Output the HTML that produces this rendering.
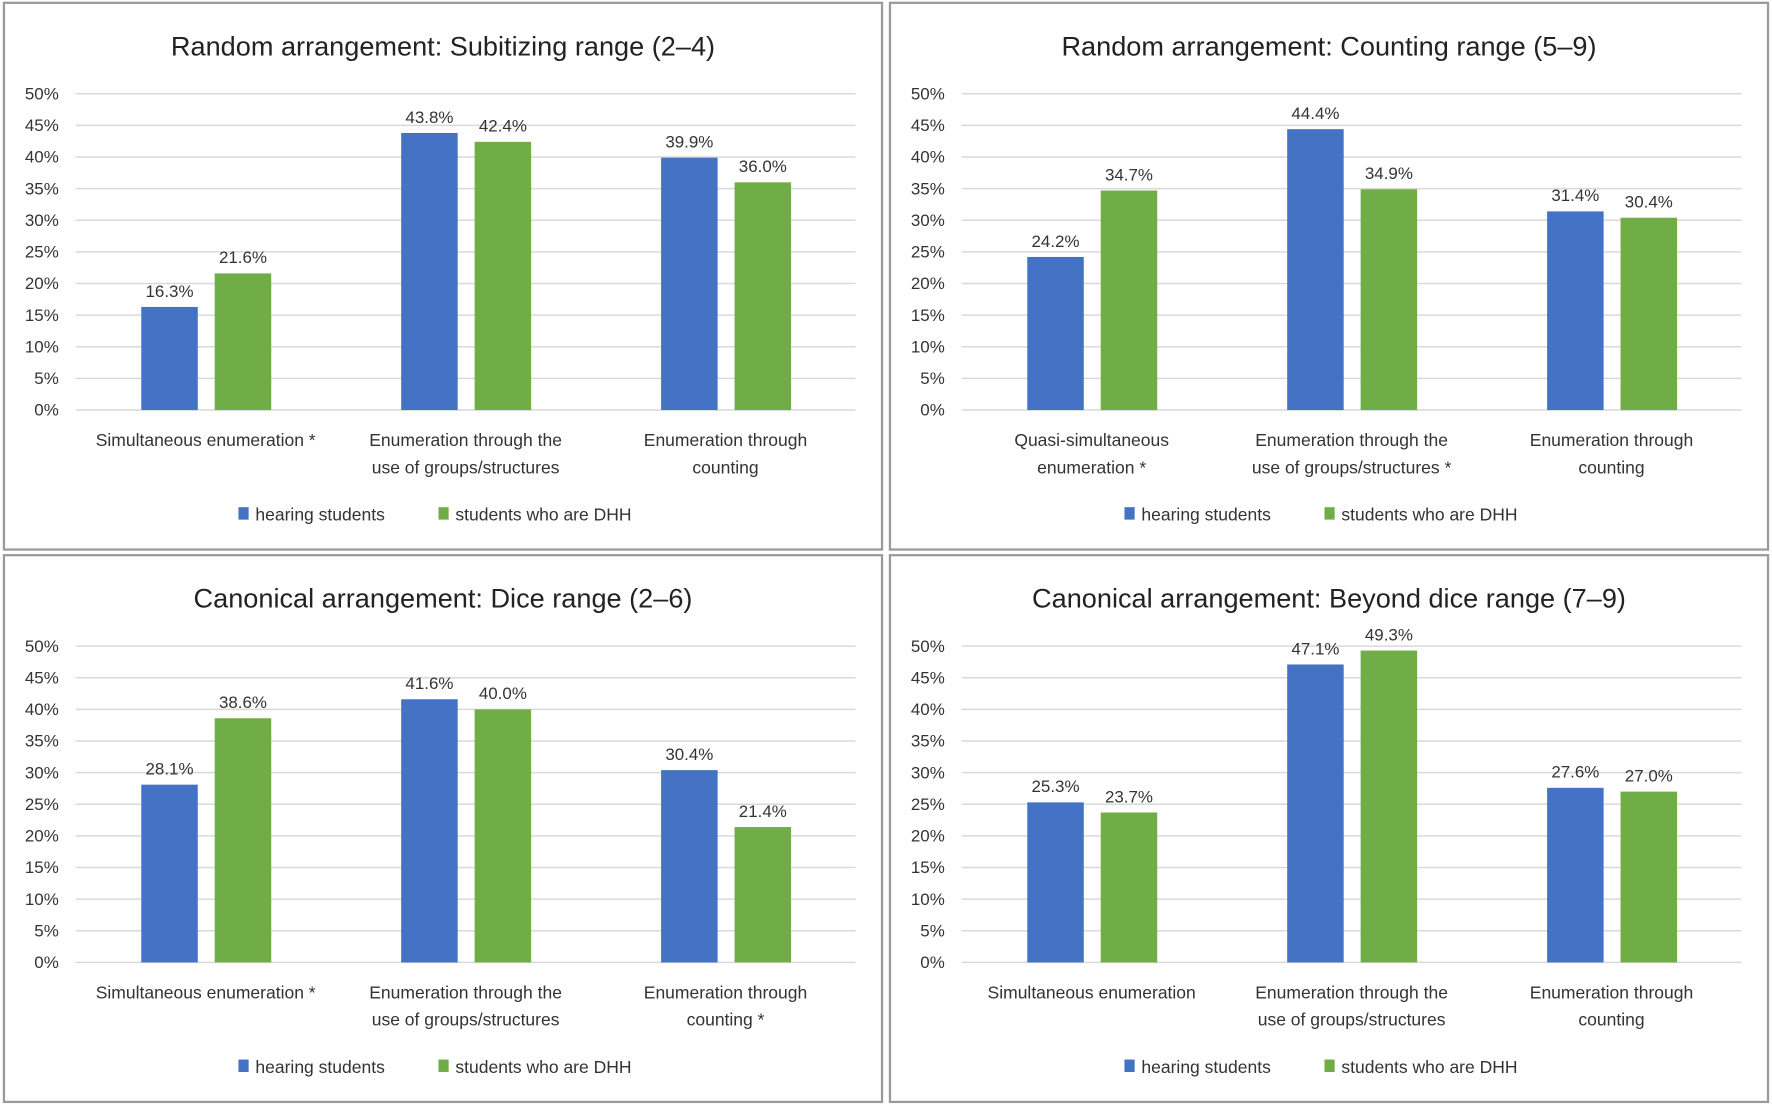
<!DOCTYPE html>
<html><head><meta charset="utf-8"><style>
html,body{margin:0;padding:0;background:#fff;}
svg{display:block;font-family:"Liberation Sans",sans-serif;}
</style></head><body>
<svg id="fig" width="1772" height="1107" viewBox="0 0 1568 980" preserveAspectRatio="none" xmlns="http://www.w3.org/2000/svg"></svg>
<script>
const titles = ["Random arrangement: Subitizing range (2–4)","Random arrangement: Counting range (5–9)","Canonical arrangement: Dice range (2–6)","Canonical arrangement: Beyond dice range (7–9)"];
const categories = [
 [["Simultaneous enumeration *"],["Enumeration through the","use of groups/structures"],["Enumeration through","counting"]],
 [["Quasi-simultaneous","enumeration *"],["Enumeration through the","use of groups/structures *"],["Enumeration through","counting"]],
 [["Simultaneous enumeration *"],["Enumeration through the","use of groups/structures"],["Enumeration through","counting *"]],
 [["Simultaneous enumeration"],["Enumeration through the","use of groups/structures"],["Enumeration through","counting"]]
];
const hearing = [[16.3,43.8,39.9],[24.2,44.4,31.4],[28.1,41.6,30.4],[25.3,47.1,27.6]];
const dhh = [[21.6,42.4,36.0],[34.7,34.9,30.4],[38.6,40.0,21.4],[23.7,49.3,27.0]];
const yTicks = [0,5,10,15,20,25,30,35,40,45,50];
const seriesNames = ["hearing students","students who are DHH"];

const NS="http://www.w3.org/2000/svg";
const svg=document.getElementById('fig');
function mk(tag,attrs,parent,text){const e=document.createElementNS(NS,tag);for(const k in attrs)e.setAttribute(k,attrs[k]);if(text!==undefined)e.textContent=text;parent.appendChild(e);return e;}
const colors=["#4472C4","#70AD47"];
for(let p=0;p<4;p++){
  const ox=(p%2)*784, oy=Math.floor(p/2)*489;
  const g=mk('g',{transform:`translate(${ox},${oy})`},svg);
  
  
  const fr=mk('rect',{x:3.5,y:2.5,width:777,height:484,fill:'#fff',stroke:'#9a9a9a','stroke-width':2},g);
  
  
  const t=mk('text',{x:392,y:49,'text-anchor':'middle','font-size':24,fill:'#222'},g,titles[p]);
  
  
  const y0=363, pxPer=5.6, xL=67, xR=757;
  const yS=v=>y0-v*pxPer;
  yTicks.forEach(v=>{
    const ln=mk('line',{x1:xL,x2:xR,y1:yS(v),y2:yS(v),stroke:'#d9d9d9','stroke-width':1.3},g);
    
    
    const tl=mk('text',{x:52,y:yS(v)+5,'text-anchor':'end','font-size':15,fill:'#333'},g,v+'%');
    
    
  });
  const bw=(xR-xL)/3;
  for(let c=0;c<3;c++){
    const cx=xL+bw*(c+0.5);
    [hearing[p][c],dhh[p][c]].forEach((v,s)=>{
      const bx=cx+(s===0?-57:8);
      const r=mk('rect',{x:bx,y:yS(v),width:50,height:v*pxPer,fill:colors[s]},g);
      
      
      const lb=mk('text',{x:bx+25,y:yS(v)-9,'text-anchor':'middle','font-size':15,fill:'#333'},g,v.toFixed(1)+'%');
      
      
    });
    categories[p][c].forEach((line,i)=>{
      const ct=mk('text',{x:cx,y:395+i*24,'text-anchor':'middle','font-size':15.5,fill:'#333'},g,line);
      
      
    });
  }
  const lx=[211,388];
  seriesNames.forEach((n,s)=>{
    const sw=mk('rect',{x:lx[s],y:449,width:9,height:11,fill:colors[s]},g);
    
    
    const lt=mk('text',{x:lx[s]+15,y:461,'font-size':15.5,fill:'#333'},g,n);
    
    
  });
}
</script>
</body></html>
